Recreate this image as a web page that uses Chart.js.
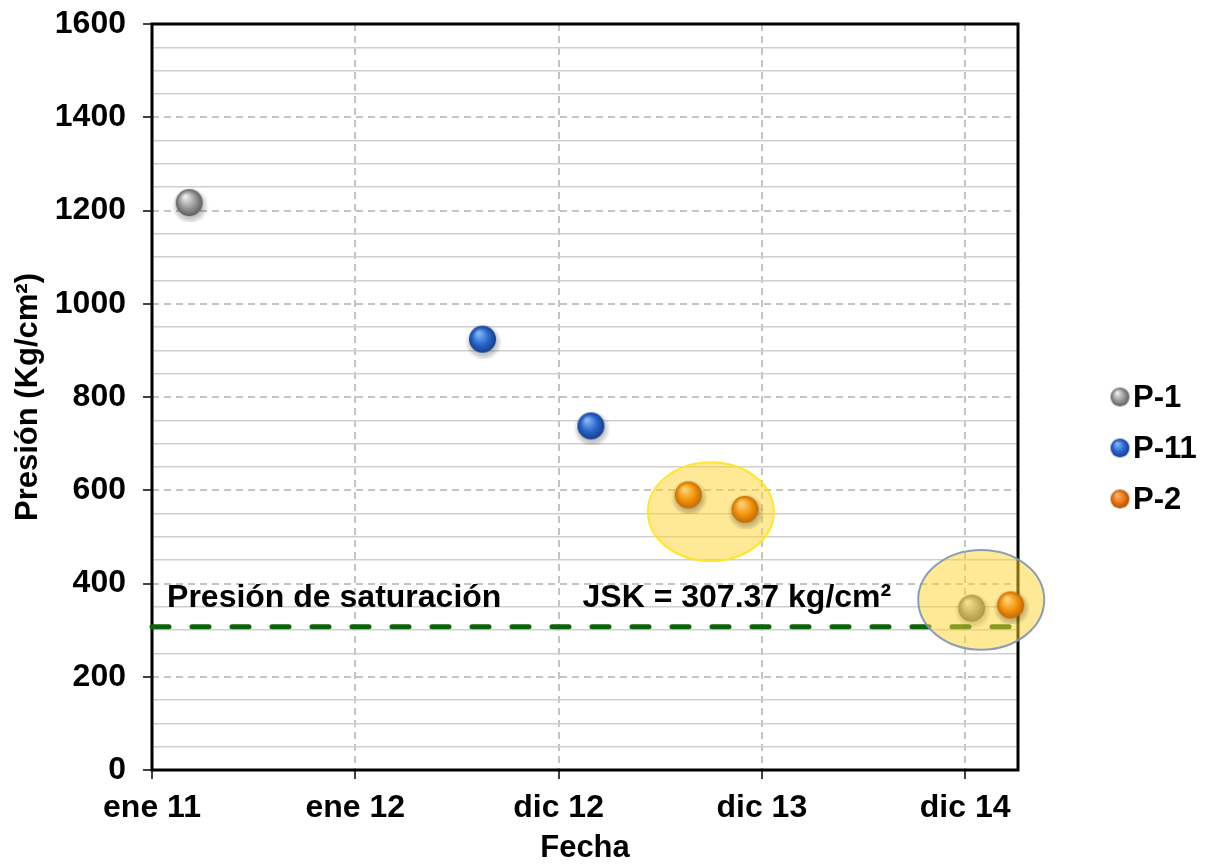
<!DOCTYPE html>
<html>
<head>
<meta charset="utf-8">
<script src="https://cdn.jsdelivr.net/npm/chart.js@4/dist/chart.umd.min.js"></script>
<style>
  html, body { margin: 0; padding: 0; background: #fff; }
  #wrap { width: 1211px; height: 867px; }
</style>
</head>
<body>
<div id="wrap"><canvas id="chart"></canvas></div>
<script>
// Tick labels (one per major x unit)
const xLabels = ['ene 11', 'ene 12', 'dic 12', 'dic 13', 'dic 14'];

// Series values (x in tick units, y in Kg/cm2)
const p1X = [0.183, 4.032];
const p1Y = [1217, 347];
const p11X = [1.626, 2.159];
const p11Y = [924, 738];
const p2X = [2.638, 2.917, 4.224];
const p2Y = [590, 559, 354];

// Saturation pressure line
const satPressure = 307.37;
const satLabel = 'Presión de saturación';
const satValueLabel = 'JSK = 307.37 kg/cm²';

// Highlight ellipses: centre x, centre y, radius x, radius y (data units)
const ellipse1 = [2.749, 554, 0.31, 106];
const ellipse2 = [4.079, 365, 0.31, 107];

const FONT = 'Liberation Sans, Arial, sans-serif';

// build a shaded sphere as a canvas to use as point style
function makeSphere(light, base, dark, r, shadow) {
    const pad = shadow ? 6 : 1;
    const size = Math.ceil(2 * r + 2 * pad);
    const c = document.createElement('canvas');
    c.width = size;
    c.height = size;
    const g = c.getContext('2d');
    const cx = size / 2, cy = size / 2;
    if (shadow) {
        const sg = g.createRadialGradient(cx + 1, cy + 3, r * 0.5, cx + 1, cy + 3, r + 5);
        sg.addColorStop(0, 'rgba(0,0,0,0.35)');
        sg.addColorStop(0.6, 'rgba(0,0,0,0.18)');
        sg.addColorStop(1, 'rgba(0,0,0,0)');
        g.fillStyle = sg;
        g.beginPath();
        g.arc(cx + 1, cy + 3, r + 5, 0, Math.PI * 2);
        g.fill();
    }
    const grad = g.createRadialGradient(cx - r * 0.3, cy - r * 0.45, r * 0.08, cx, cy, r);
    grad.addColorStop(0, light);
    grad.addColorStop(0.55, base);
    grad.addColorStop(1, dark);
    g.fillStyle = grad;
    g.beginPath();
    g.arc(cx, cy, r, 0, Math.PI * 2);
    g.fill();
    return c;
}

const sphereColors = {
    gray: ['#ececec', '#9c9c9c', '#5e5e5e'],
    blue: ['#86b6f2', '#2b69cf', '#143f8c'],
    orange: ['#ffd47c', '#f59810', '#c46a00'],
    orangeLegend: ['#ffb468', '#e9791a', '#b24e00']
};

const ptGray = makeSphere(...sphereColors.gray, 13.5, true);
const ptBlue = makeSphere(...sphereColors.blue, 13.5, true);
const ptOrange = makeSphere(...sphereColors.orange, 13.5, true);

const legendItems = [
    { label: 'P-1', img: makeSphere(...sphereColors.gray, 9.5, false) },
    { label: 'P-11', img: makeSphere(...sphereColors.blue, 9.5, false) },
    { label: 'P-2', img: makeSphere(...sphereColors.orangeLegend, 9.5, false) }
];

function toPoints(xs, ys) {
    return xs.map((x, i) => ({ x: x, y: ys[i] }));
}

function drawEllipse(chart, e, fill, stroke) {
    const { ctx, scales: { x, y } } = chart;
    const cx = x.getPixelForValue(e[0]);
    const cy = y.getPixelForValue(e[1]);
    const rx = Math.abs(x.getPixelForValue(e[0] + e[2]) - cx);
    const ry = Math.abs(y.getPixelForValue(e[1] + e[3]) - cy);
    ctx.save();
    ctx.beginPath();
    ctx.ellipse(cx, cy, rx, ry, 0, 0, Math.PI * 2);
    ctx.fillStyle = fill;
    ctx.fill();
    ctx.lineWidth = 2;
    ctx.strokeStyle = stroke;
    ctx.stroke();
    ctx.restore();
}

const decorPlugin = {
    id: 'decor',
    beforeDatasetsDraw(chart) {
        const { ctx, chartArea: a, scales: { x, y } } = chart;
        // plot frame
        ctx.save();
        ctx.lineWidth = 3;
        ctx.strokeStyle = '#000';
        ctx.strokeRect(a.left, a.top, a.right - a.left, a.bottom - a.top);
        ctx.restore();

        // annotation texts
        ctx.save();
        ctx.font = 'bold 32px ' + FONT;
        ctx.fillStyle = '#000';
        ctx.textBaseline = 'alphabetic';
        ctx.textAlign = 'left';
        ctx.fillText(satLabel, x.getPixelForValue(0.074), y.getPixelForValue(350));
        ctx.fillText(satValueLabel, x.getPixelForValue(2.118), y.getPixelForValue(350));
        ctx.restore();

        drawEllipse(chart, ellipse1, 'rgba(255, 212, 45, 0.5)', 'rgba(255, 228, 30, 0.9)');
    },
    afterDatasetDraw(chart, args) {
        // second ellipse sits over the line and the first P-1 point
        if (chart.data.datasets[args.index].label === 'P-1') {
            drawEllipse(chart, ellipse2, 'rgba(255, 212, 45, 0.5)', 'rgba(125, 150, 178, 0.9)');
        }
    },
    afterDraw(chart) {
        const ctx = chart.ctx;
        ctx.save();
        ctx.font = 'bold 31px ' + FONT;
        ctx.fillStyle = '#000';
        ctx.textBaseline = 'middle';
        ctx.textAlign = 'left';
        const ys = [397, 448, 499];
        legendItems.forEach((item, i) => {
            ctx.drawImage(item.img, 1120 - item.img.width / 2, ys[i] - item.img.height / 2);
            ctx.fillText(item.label, 1133, ys[i] + 1);
        });
        ctx.restore();
    }
};

new Chart(document.getElementById('chart'), {
    type: 'scatter',
    data: {
        datasets: [
            {
                label: 'sat',
                type: 'line',
                data: [{ x: 0, y: satPressure }, { x: 4.26, y: satPressure }],
                borderColor: '#0a640a',
                borderWidth: 5,
                borderDash: [17, 23],
                borderCapStyle: 'round',
                pointRadius: 0,
                order: 10,
                clip: false
            },
            {
                label: 'P-1',
                data: toPoints(p1X, p1Y),
                pointStyle: ptGray,
                order: 9,
                clip: false
            },
            {
                label: 'P-11',
                data: toPoints(p11X, p11Y),
                pointStyle: ptBlue,
                order: 1,
                clip: false
            },
            {
                label: 'P-2',
                data: toPoints(p2X, p2Y),
                pointStyle: ptOrange,
                order: 0,
                clip: false
            }
        ]
    },
    options: {
        responsive: true,
        maintainAspectRatio: false,
        animation: false,
        layout: { padding: { left: 0, top: 24, right: 193, bottom: 0 } },
        plugins: {
            legend: { display: false },
            tooltip: { enabled: false }
        },
        scales: {
            x: {
                type: 'linear',
                min: 0,
                max: 4.26,
                afterBuildTicks: (s) => { s.ticks = xLabels.map((_, i) => ({ value: i })); },
                afterFit: (s) => { s.height = 97; },
                ticks: {
                    padding: 10,
                    color: '#000',
                    font: { family: FONT, size: 32, weight: 'bold' },
                    callback: (v) => xLabels[v] !== undefined ? xLabels[v] : ''
                },
                grid: {
                    color: '#c4c4c4',
                    lineWidth: 2,
                    tickLength: 9,
                    tickColor: '#000',
                    tickWidth: 1.5
                },
                border: { display: false, dash: [7, 5] },
                title: {
                    display: true,
                    text: 'Fecha',
                    color: '#000',
                    font: { family: FONT, size: 31, weight: 'bold' },
                    padding: { top: 0, bottom: 0 }
                }
            },
            y: {
                min: 0,
                max: 1600,
                afterFit: (s) => {
                    s.width = 152;
                    s.paddingTop = 0;
                    s.paddingBottom = 0;
                },
                ticks: {
                    stepSize: 200,
                    padding: 17,
                    color: '#000',
                    font: { family: FONT, size: 32, weight: 'bold' },
                    callback: (v) => String(v)
                },
                grid: {
                    color: '#c4c4c4',
                    lineWidth: 2,
                    tickLength: 9,
                    tickColor: '#000',
                    tickWidth: 1.5
                },
                border: { display: false, dash: [7, 5] },
                title: {
                    display: true,
                    text: 'Presión (Kg/cm²)',
                    color: '#000',
                    font: { family: FONT, size: 31, weight: 'bold' },
                    padding: { top: 10, bottom: 0 }
                }
            },
            yMinor: {
                type: 'linear',
                position: 'left',
                min: 0,
                max: 1600,
                afterBuildTicks: (s) => { s.ticks = s.ticks.filter(t => t.value % 200 !== 0); },
                afterFit: (s) => {
                    s.width = 0;
                    s.paddingTop = 0;
                    s.paddingBottom = 0;
                },
                ticks: { stepSize: 50, display: false },
                grid: { color: '#cfcfcf', lineWidth: 1.5, drawTicks: false },
                border: { display: false }
            }
        }
    },
    plugins: [decorPlugin]
});
</script>
</body>
</html>
